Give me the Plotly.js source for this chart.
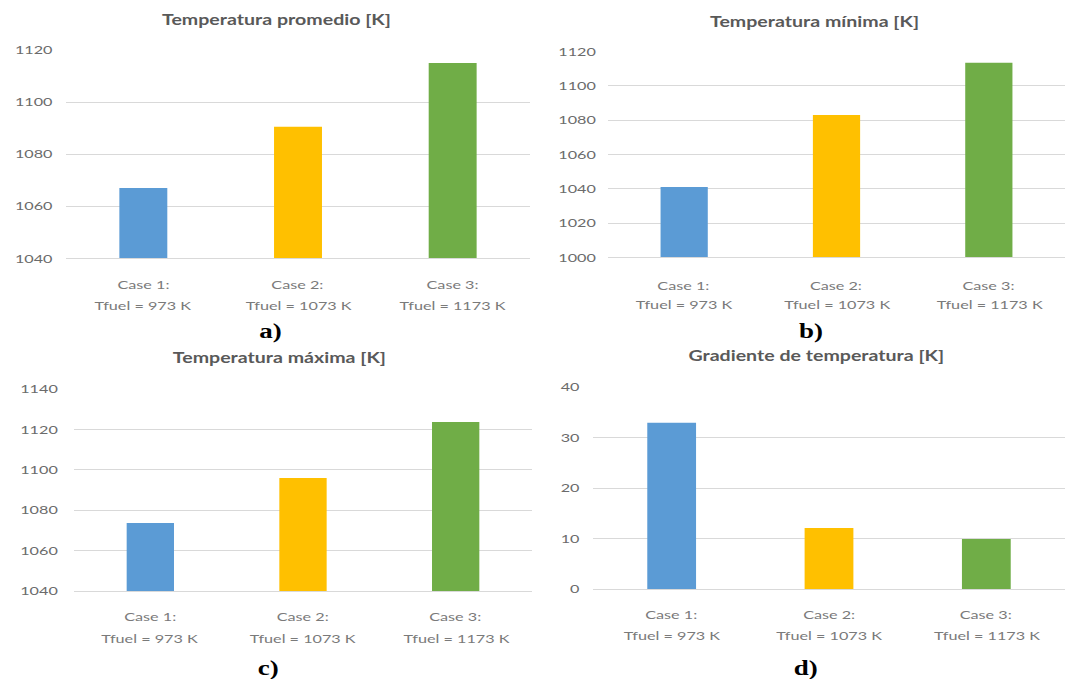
<!DOCTYPE html>
<html>
<head>
<meta charset="utf-8">
<script src="https://cdn.plot.ly/plotly-3.0.1.min.js"></script>
<style>
  html, body { margin: 0; padding: 0; background: #fff; overflow: hidden; }
  #chart { width: 789px; height: 679px; transform-origin: 0 0; }
</style>
</head>
<body>
<div id="chart"></div>
<script>
// ---- data ----
const caseLabels = ['Case 1:', 'Case 2:', 'Case 3:'];
const fuelLabels = ['Tfuel = 973 K', 'Tfuel = 1073 K', 'Tfuel = 1173 K'];
const tempPromedio = [1067, 1090.5, 1115];
const tempMinima = [1041, 1083, 1113.5];
const tempMaxima = [1073.7, 1096, 1123.7];
const gradiente = [32.9, 12.1, 9.9];
const barColors = ['#5B9BD5', '#FFC000', '#70AD47'];
const panelTitles = ['Temperatura promedio [K]', 'Temperatura mínima [K]', 'Temperatura máxima [K]', 'Gradiente de temperatura [K]'];
const panelLetters = ['a)', 'b)', 'c)', 'd)'];
const panelValues = [tempPromedio, tempMinima, tempMaxima, gradiente];

// ---- layout config ----
const W = 789, H = 679, REAL_W = 1065;
const scaleX = REAL_W / W;
document.getElementById('chart').style.transform = 'scaleX(' + scaleX + ')';
const py = px => 1 - px / H;   // pixel row -> paper y
const pxx = px => px / REAL_W; // real pixel column -> paper x

const panels = [
  { xd: [66, 530],  yd: [258.3, 50],   range: [1040, 1120], dtick: 20, standoff: 9,
    title: [277, 19], letter: [270, 331], cat: [284, 305] },
  { xd: [608, 1065], yd: [257.3, 51.7], range: [1000, 1120], dtick: 20, standoff: 8,
    title: [815, 21], letter: [811, 331], cat: [285, 304] },
  { xd: [74, 532],  yd: [591, 389],    range: [1040, 1140], dtick: 20, standoff: 11,
    title: [280, 357], letter: [268, 668], cat: [616, 638] },
  { xd: [593, 1065], yd: [589, 387],   range: [0, 40],      dtick: 10, standoff: 9,
    title: [817, 355], letter: [806, 668], cat: [614, 635] }
];

const font = 'Lato, "Open Sans", sans-serif';
const traces = [];
const layout = {
  width: W, height: H,
  margin: { l: 0, r: 0, t: 0, b: 0 },
  paper_bgcolor: '#fff', plot_bgcolor: '#fff',
  showlegend: false,
  font: { family: font, color: '#595959' },
  annotations: []
};

panels.forEach((p, k) => {
  const n = k === 0 ? '' : String(k + 1);
  traces.push({
    type: 'bar',
    x: [0, 1, 2],
    y: panelValues[k],
    width: 0.31,
    marker: { color: barColors, line: { width: 0 } },
    xaxis: 'x' + n, yaxis: 'y' + n,
    hoverinfo: 'skip'
  });
  layout['xaxis' + n] = {
    domain: [pxx(p.xd[0]), Math.min(1, pxx(p.xd[1]))],
    anchor: 'y' + n,
    range: [-0.5, 2.5],
    showticklabels: false, showgrid: false, zeroline: false,
    showline: true, linecolor: '#d9d9d9', linewidth: 1,
    fixedrange: true
  };
  layout['yaxis' + n] = {
    domain: [py(p.yd[0]), py(p.yd[1])],
    anchor: 'x' + n,
    range: p.range, dtick: p.dtick, tick0: 0,
    showgrid: true, gridcolor: '#d9d9d9', gridwidth: 1,
    zeroline: false, showline: false, ticks: '',
    ticklabelstandoff: p.standoff,
    tickfont: { family: font, size: 12, color: '#6b6b6b' },
    fixedrange: true
  };
  layout.annotations.push({
    text: '<b>' + panelTitles[k] + '</b>',
    xref: 'paper', yref: 'paper',
    x: pxx(p.title[0]), y: py(p.title[1]),
    xanchor: 'center', yanchor: 'middle', showarrow: false,
    font: { family: font, size: 14.5, color: '#595959' }
  });
  layout.annotations.push({
    text: '<b>' + panelLetters[k] + '</b>',
    xref: 'paper', yref: 'paper',
    x: pxx(p.letter[0]), y: py(p.letter[1]),
    xanchor: 'center', yanchor: 'middle', showarrow: false,
    font: { family: '"Liberation Serif", "Times New Roman", serif', size: 20, color: '#000' }
  });
  for (let i = 0; i < 3; i++) {
    layout.annotations.push({
      text: caseLabels[i], xref: 'x' + n, yref: 'paper',
      x: i, y: py(p.cat[0]), xanchor: 'center', yanchor: 'middle', showarrow: false,
      font: { family: font, size: 12, color: '#7a7a7a' }
    });
    layout.annotations.push({
      text: fuelLabels[i], xref: 'x' + n, yref: 'paper',
      x: i, y: py(p.cat[1]), xanchor: 'center', yanchor: 'middle', showarrow: false,
      font: { family: font, size: 12, color: '#7a7a7a' }
    });
  }
});

Plotly.newPlot('chart', traces, layout, { staticPlot: true, displayModeBar: false });
</script>
</body>
</html>
